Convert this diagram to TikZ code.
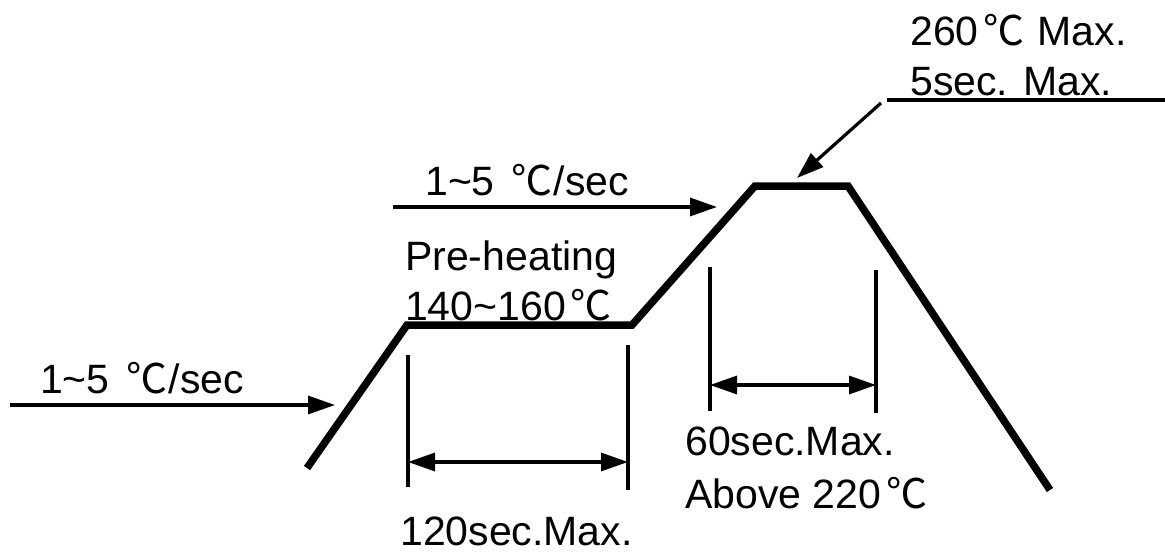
\documentclass[tikz,border=0pt]{standalone}
\usepackage{fontspec}
\setmainfont{Liberation Sans}
\newfontfamily\cjk{Noto Sans CJK SC}
\usetikzlibrary{arrows.meta}
\newcommand\degc{\hspace{0.12em}{\cjk ℃}\hspace{0.04em}}
\begin{document}
\begin{tikzpicture}[x=1pt,y=-1pt,
  thin line/.style={line width=3.2pt},
  profile/.style={line width=7.5pt,line join=miter},
  arr/.style={thin line,-{Triangle[length=27pt,width=18pt]}},
  dbl/.style={thin line,{Triangle[length=27pt,width=18pt]}-{Triangle[length=27pt,width=18pt]}},
  lbl/.style={anchor=base west,inner sep=0pt,font=\fontsize{41}{43}\selectfont}]
\useasboundingbox[fill=white] (0,0) rectangle (1165,554);
% profile
\coordinate (p1) at (307,468);
\coordinate (p2) at (407,325);
\coordinate (p3) at (632,325);
\coordinate (p4) at (755,186);
\coordinate (p5) at (848,186);
\coordinate (p6) at (1050,490);
\draw[profile] (p1) -- (p2) -- (p3) -- (p4) -- (p5) -- (p6);
% ramp arrows
\coordinate (a1s) at (10,405);
\coordinate (a1e) at (335,405);
\draw[arr] (a1s) -- (a1e);
\coordinate (a2s) at (393,207);
\coordinate (a2e) at (717,207);
\draw[arr] (a2s) -- (a2e);
% peak leader
\coordinate (l1) at (1165,100);
\coordinate (l2) at (887,100);
\coordinate (l3) at (881,103);
\coordinate (l4) at (797,178);
\draw[thin line] (l1) -- (l2);
\draw[arr] (l3) -- (l4);
% pre-heat dimension
\coordinate (v1t) at (408,355);
\coordinate (v1b) at (408,487);
\coordinate (v2t) at (628,345);
\coordinate (v2b) at (628,490);
\draw[thin line] (v1t) -- (v1b);
\draw[thin line] (v2t) -- (v2b);
\coordinate (d1a) at (408,462);
\coordinate (d1b) at (628,462);
\draw[dbl] (d1a) -- (d1b);
% reflow dimension
\coordinate (v3t) at (710,267);
\coordinate (v3b) at (710,411);
\coordinate (v4t) at (876,270);
\coordinate (v4b) at (876,413);
\draw[thin line] (v3t) -- (v3b);
\draw[thin line] (v4t) -- (v4b);
\coordinate (d2a) at (710,385);
\coordinate (d2b) at (876,385);
\draw[dbl] (d2a) -- (d2b);
% labels
\node[lbl] (t1) at (40,393) {1\char`\~5 \degc/sec};
\node[lbl] (t2) at (425,195) {1\char`\~5 \degc/sec};
\node[lbl] (pre) at (405,270) {Pre-heating};
\node[lbl] (t140) at (405,320) {140\char`\~160\degc};
\node[lbl] (t120) at (400,545) {120sec.Max.};
\node[lbl] (t60) at (685,455) {60sec.Max.};
\node[lbl] (tab) at (685,508) {Above 220\degc};
\node[lbl] (t260) at (910,45) {260\degc\ Max.};
\node[lbl] (t5) at (910,95) {5sec. Max.};
\end{tikzpicture}
\end{document}
